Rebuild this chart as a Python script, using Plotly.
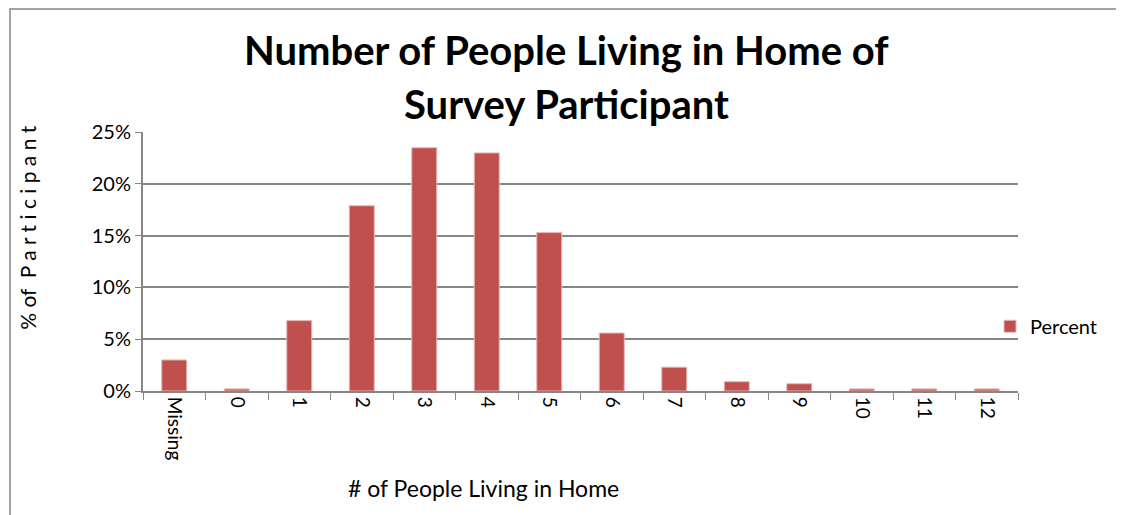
import plotly.graph_objects as go

# data
categories = ["Missing", "0", "1", "2", "3", "4", "5", "6", "7", "8", "9", "10", "11", "12"]
percent = [0.030, 0.002, 0.068, 0.179, 0.235, 0.230, 0.153, 0.056, 0.023, 0.009, 0.007, 0.002, 0.002, 0.002]

bar_color = "#C0504D"
grid_color = "#868686"
font = "Lato"

fig = go.Figure()
fig.add_trace(go.Bar(x=categories, y=percent, name="Percent", marker=dict(color=bar_color, line=dict(color="#E6B9B8", width=1))))

fig.update_layout(
    width=1124, height=515,
    margin=dict(l=135, r=114, t=124, b=132, autoexpand=False),
    paper_bgcolor="white", plot_bgcolor="white",
    bargap=0.6,
    showlegend=True,
    legend=dict(x=0.968, xanchor="left", y=0.25, yanchor="middle", font=dict(family=font, size=20, color="black"),
                bgcolor="rgba(0,0,0,0)"),
    font=dict(family=font, size=18, color="black"),
)

fig.update_yaxes(range=[0, 0.2502], dtick=0.05, tickformat=".0%", showgrid=True, gridcolor=grid_color, gridwidth=1.5,
                 showline=True, linecolor=grid_color, linewidth=2, ticks="outside", ticklen=6, tickcolor=grid_color,
                 tickfont=dict(family=font, size=20), zeroline=False, automargin=False)
fig.update_xaxes(showline=True, linecolor=grid_color, linewidth=2, ticks="outside", ticklen=7, tickcolor=grid_color,
                 tickson="boundaries", tickangle=90, tickfont=dict(family=font, size=19), showgrid=False, automargin=False)

# title as two lines, bold
fig.add_annotation(text="<b>Number of People Living in Home of</b>", x=0.484, xref="paper", y=1.315, yref="paper",
                   yanchor="middle", showarrow=False, font=dict(family=font, size=40, color="black"))
fig.add_annotation(text="<b>Survey Participant</b>", x=0.484, xref="paper", y=1.11, yref="paper",
                   yanchor="middle", showarrow=False, font=dict(family=font, size=40, color="black"))

# axis titles
fig.add_annotation(text="% of  P a r t i c i p a n t", x=-0.148, xref="paper", y=0.63, yref="paper",
                   textangle=-90, showarrow=False, font=dict(family=font, size=21, color="black"))
fig.add_annotation(text="# of People Living in Home", x=0.232, xref="paper", xanchor="left", y=-0.375, yref="paper",
                   yanchor="middle", showarrow=False, font=dict(family=font, size=23, color="black"))

# outer chart frame (only left and top edges fall inside the picture)
fig.add_shape(type="rect", xref="paper", yref="paper", x0=-0.152, x1=1.3, y0=-0.7, y1=1.475,
              line=dict(color=grid_color, width=1.5))

fig.write_html("out.html")
